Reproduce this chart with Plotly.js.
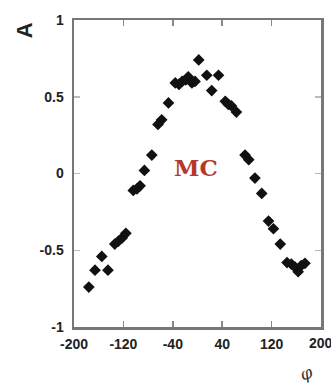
<!DOCTYPE html>
<html>
<head>
<meta charset="utf-8">
<script src="https://cdn.plot.ly/plotly-3.0.1.min.js"></script>
<style>html,body{margin:0;padding:0;background:#fff;}#chart{width:331px;height:387px;}</style>
</head>
<body>
<div id="chart"></div>
<script>
var phiValues = [-176,-166,-155,-145,-134,-128,-122,-116,-104,-98,-93,-86,-74,-64,-58,-47,-36,-30,-25,-19,-15,-9,-4,2,15,23,34,45,50,55,63,77,83,93,104,115,123,134,145,152,158,163,168,174];
var asymValues = [-0.74,-0.63,-0.54,-0.63,-0.46,-0.44,-0.42,-0.39,-0.11,-0.10,-0.08,0.02,0.12,0.32,0.35,0.46,0.59,0.58,0.60,0.61,0.63,0.59,0.60,0.74,0.64,0.54,0.64,0.47,0.45,0.44,0.40,0.12,0.09,-0.03,-0.13,-0.31,-0.36,-0.46,-0.58,-0.59,-0.61,-0.64,-0.60,-0.585];
var xTickVals = [-200,-120,-40,40,120,200];
var xTickText = ['-200','-120','-40','40','120','200'];
var yTickVals = [-1,-0.5,0,0.5,1];
var yTickText = ['-1','-0.5','0','0.5','1'];

var trace = {
  x: phiValues, y: asymValues, type: 'scatter', mode: 'markers',
  marker: {symbol: 'diamond', size: 9, color: '#111'},
  hoverinfo: 'none'
};
var tickFont = {family: 'Liberation Sans, Arial, sans-serif', size: 14, color: '#222', weight: 'bold'};
var lastX = xTickVals[xTickVals.length - 1];
var layout = {
  width: 331, height: 387,
  margin: {l: 74, r: 10, t: 20, b: 60},
  paper_bgcolor: '#fff', plot_bgcolor: '#fff',
  showlegend: false,
  xaxis: {
    range: [-200, 200], tickmode: 'array', tickvals: xTickVals.slice(0, -1), ticktext: xTickText.slice(0, -1),
    ticks: 'inside', ticklen: 6, tickwidth: 1.5, tickcolor: '#888',
    showline: true, linewidth: 2.5, linecolor: '#777', mirror: 'ticks',
    showgrid: false, zeroline: false, tickfont: tickFont, ticklabelstandoff: 3
  },
  yaxis: {
    range: [-1, 1], tickmode: 'array', tickvals: yTickVals, ticktext: yTickText,
    ticks: 'inside', ticklen: 6, tickwidth: 1.5, tickcolor: '#bbb',
    showline: true, linewidth: 2.5, linecolor: '#777', mirror: 'ticks',
    showgrid: false, zeroline: false, tickfont: tickFont, ticklabelstandoff: 5
  },
  annotations: [
    {text: xTickText[xTickText.length - 1], xref: 'x', yref: 'paper', x: lastX, y: -0.018, yanchor: 'top', xanchor: 'center',
     showarrow: false, font: tickFont},
    {text: 'MC', xref: 'paper', yref: 'paper', x: 0.494, y: 0.52, xanchor: 'center', yanchor: 'middle', showarrow: false,
     font: {family: 'DejaVu Serif, Liberation Serif, serif', size: 23, color: '#b5382a', weight: 'bold'}},
    {text: 'A', xref: 'paper', yref: 'paper', x: -0.2, y: 0.965, xanchor: 'center', yanchor: 'middle', showarrow: false, textangle: -90,
     font: {family: 'Liberation Sans, Arial, sans-serif', size: 22, color: '#222', weight: 'bold'}},
    {text: 'φ', xref: 'paper', yref: 'paper', x: 0.94, y: -0.15, xanchor: 'center', yanchor: 'middle', showarrow: false, textangle: -20,
     font: {family: 'DejaVu Serif, serif', size: 17, color: '#333', style: 'italic'}}
  ]
};
Plotly.newPlot('chart', [trace], layout, {displayModeBar: false, staticPlot: true});
</script>
</body>
</html>
